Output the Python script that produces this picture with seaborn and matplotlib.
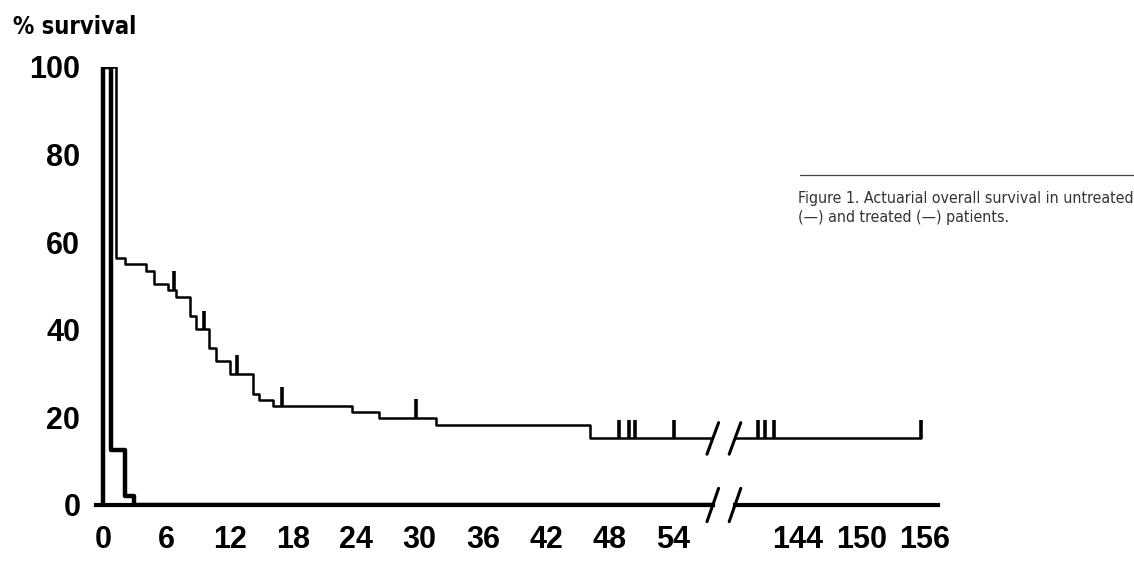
import matplotlib
matplotlib.use('Agg')
import matplotlib.pyplot as plt
import seaborn as sns
import pandas as pd
from matplotlib.lines import Line2D

# Kaplan-Meier style curves (months, % survival)
treated_months = [0, 0, 1.2, 2.1, 4.1, 4.8, 6.2, 6.9, 8.2, 8.8, 10.0, 10.7, 12.0,
                  14.2, 14.8, 16.1, 23.6, 26.2, 31.6, 46.2, 155.7]
treated_surv = [0, 100, 56.5, 55.0, 53.5, 50.4, 49.1, 47.4, 43.1, 40.1, 35.9, 32.9, 30.0,
                25.3, 24.0, 22.6, 21.2, 19.8, 18.3, 15.2, 15.2]
censor_months = [6.7, 9.6, 12.7, 17.0, 29.7, 48.9, 49.9, 50.4, 54.1, 140.2, 140.9, 141.7, 155.7]

untreated_months = [0, 0, 0.75, 2.1, 2.9, 60]
untreated_surv = [0, 100, 12.5, 2.0, 0, 0]

left_ticks = [0, 6, 12, 18, 24, 30, 36, 42, 48, 54]
right_ticks = [144, 150, 156]
y_ticks = [0, 20, 40, 60, 80, 100]

treated = pd.DataFrame({'month': treated_months, 'surv': treated_surv})
untreated = pd.DataFrame({'month': untreated_months, 'surv': untreated_surv})


def surv_at(t):
    val = treated_surv[0]
    for m, s in zip(treated_months, treated_surv):
        if m <= t:
            val = s
    return val


censor_y = [surv_at(t) for t in censor_months]

sns.set_style('white')
plt.rcParams['font.family'] = ['Liberation Sans', 'DejaVu Sans']
plt.rcParams['text.color'] = 'black'
plt.rcParams['xtick.color'] = 'black'
plt.rcParams['ytick.color'] = 'black'

W, H = 1134, 566
fig = plt.figure(figsize=(W / 100, H / 100), dpi=100)

px_per_month = 10.55
x0_px = 103
y0_px, y100_px = 505, 67
bottom = 1 - y0_px / H
height = (y0_px - y100_px) / H

l_lo, l_hi = -0.7, 57.8
r_lo = 144 + (735 - 798) / px_per_month
r_hi = 144 + (938 - 798) / px_per_month

ax1 = fig.add_axes([(x0_px + l_lo * px_per_month) / W, bottom,
                    (l_hi - l_lo) * px_per_month / W, height])
ax2 = fig.add_axes([735 / W, bottom, (938 - 735) / W, height])

for ax, lo, hi, ticks in [(ax1, l_lo, l_hi, left_ticks), (ax2, r_lo, r_hi, right_ticks)]:
    sns.lineplot(data=treated, x='month', y='surv', ax=ax, estimator=None, sort=False,
                 drawstyle='steps-post', color='black', linewidth=1.8)
    sns.lineplot(data=untreated, x='month', y='surv', ax=ax, estimator=None, sort=False,
                 drawstyle='steps-post', color='black', linewidth=3.2)
    ax.vlines(censor_months, censor_y, [c + 4.3 for c in censor_y], color='black', linewidth=2.6)
    ax.set_xlim(lo, hi)
    ax.set_ylim(0, 100)
    ax.set_xticks(ticks)
    ax.set_xticklabels([str(t) for t in ticks], fontsize=22, fontweight='bold', color='black')
    ax.tick_params(axis='x', direction='inout', length=11, width=2.4, pad=9, color='black')
    ax.set_xlabel('')
    ax.set_ylabel('')
    for side in ['top', 'right', 'left']:
        ax.spines[side].set_visible(False)
    ax.spines['bottom'].set_linewidth(3)
    ax.spines['bottom'].set_color('black')
    ax.patch.set_alpha(0)

ax1.set_yticks(y_ticks)
ax1.set_yticklabels([str(t) for t in y_ticks], fontsize=22, fontweight='bold', color='black')
ax1.tick_params(axis='y', length=0, pad=11)
ax2.set_yticks([])

# break marks (//) on the axis and on the treated curve
for ax, xb in [(ax1, l_hi), (ax2, r_lo)]:
    for yb, h in [(0, 3.8), (15.2, 3.6)]:
        ax.plot([xb - 0.55, xb + 0.55], [yb - h, yb + h], color='black', linewidth=2.2,
                clip_on=False)

fig.text(13 / W, 1 - 27 / H, '% survival', fontsize=17, fontweight='bold', color='black',
         family='DejaVu Sans', fontstretch='condensed', va='center', ha='left')

fig.add_artist(Line2D([800 / W, 1.0], [1 - 175 / H, 1 - 175 / H], color='#444444',
                      linewidth=0.9))
fig.text(798 / W, 1 - 191 / H,
         'Figure 1. Actuarial overall survival in untreated\n(\u2014) and treated (\u2014) patients.',
         fontsize=11.4, color='#333333', family='DejaVu Sans', fontstretch='condensed',
         va='top', ha='left', linespacing=1.35)

fig.savefig('out.png', dpi=100)
